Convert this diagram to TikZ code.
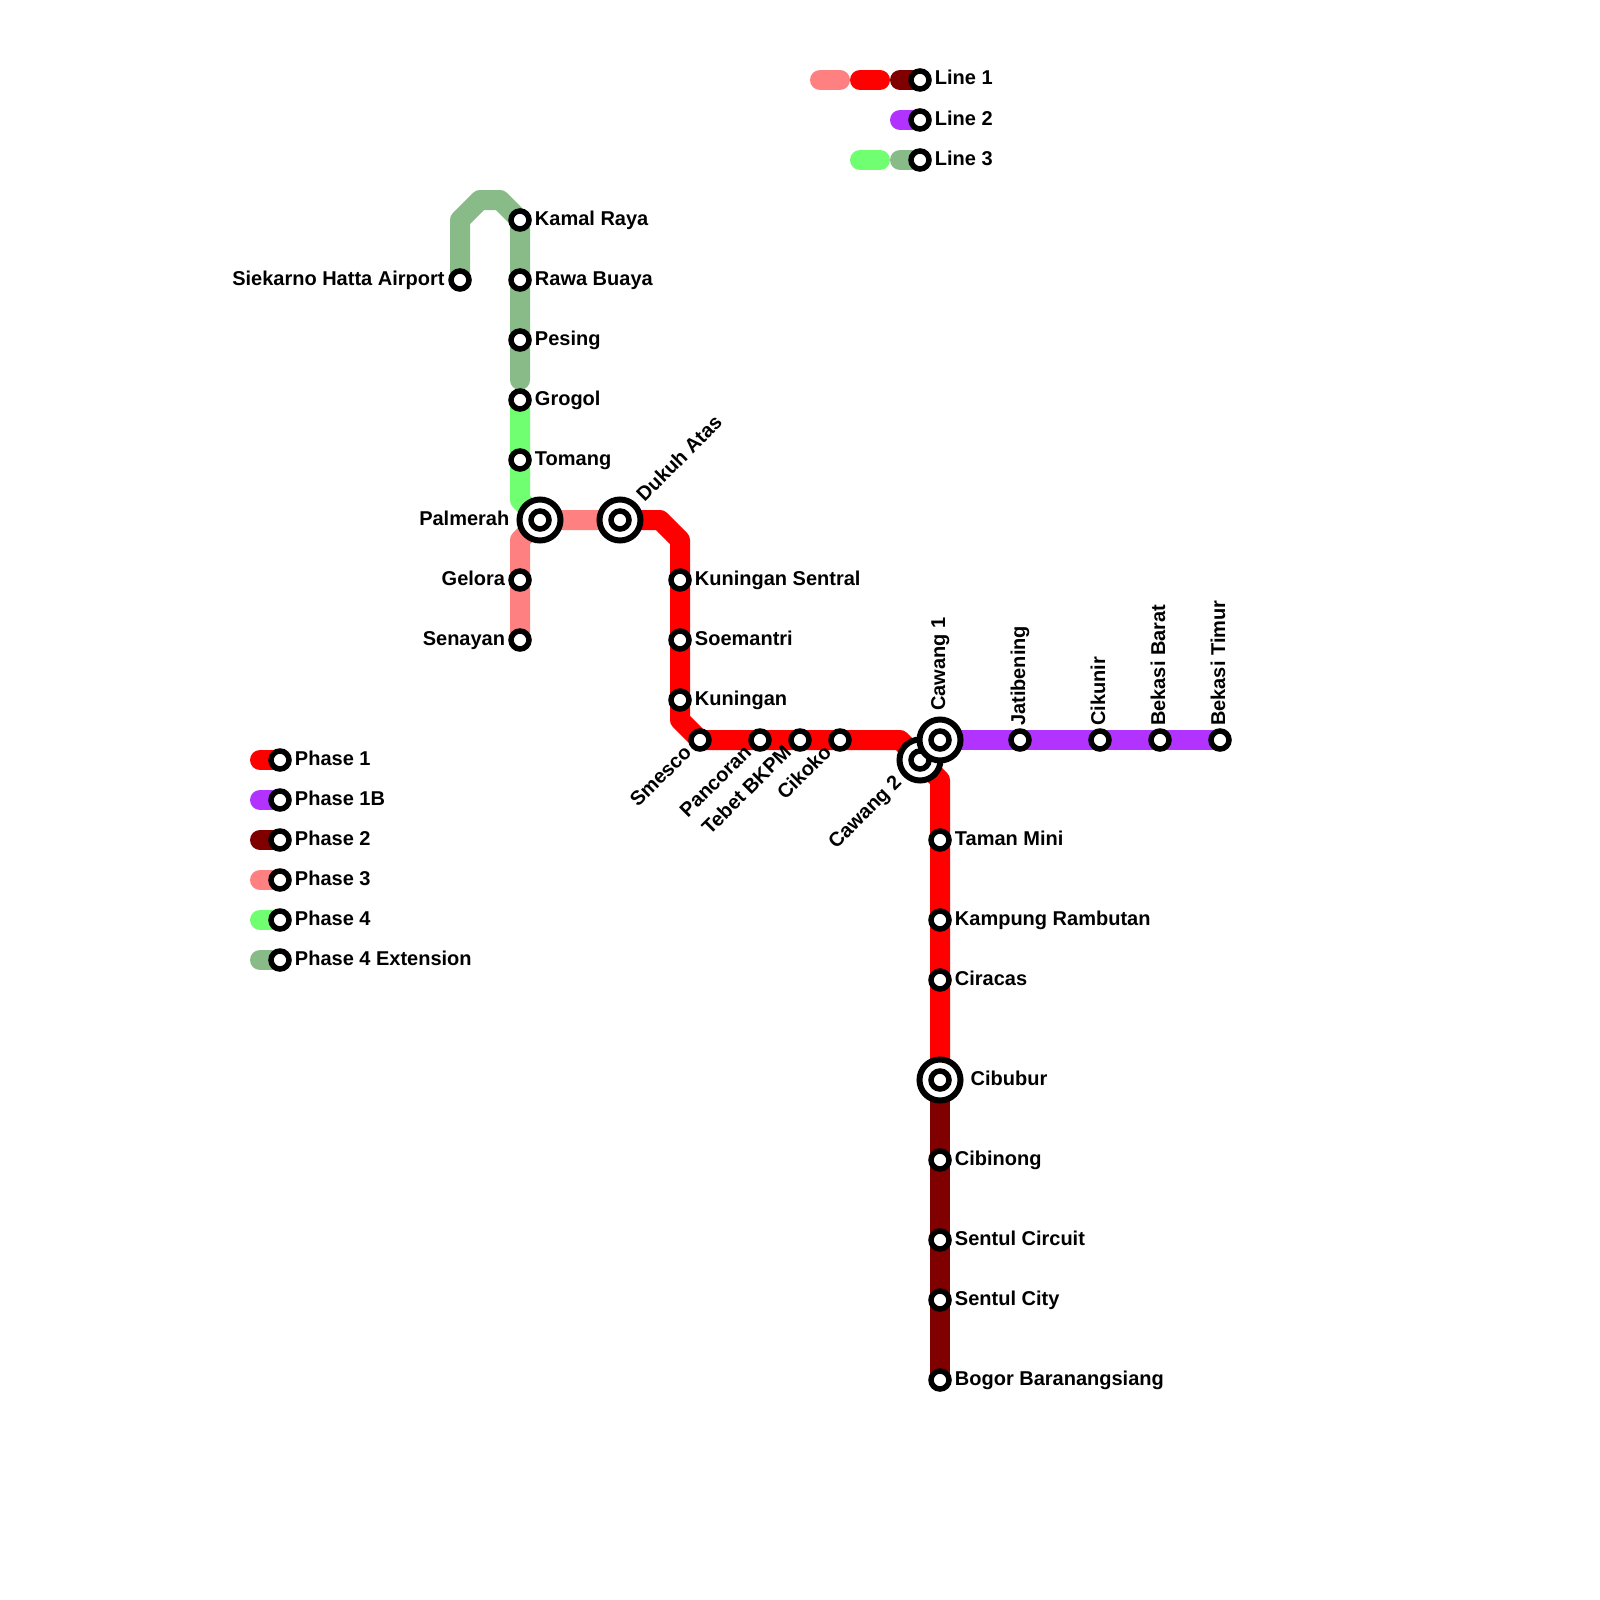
\documentclass[tikz,border=0pt]{standalone}
\usepackage{fontspec}
\setmainfont{Liberation Sans}
\usepackage{xcolor}
\usepackage{tikz}
\usetikzlibrary{positioning,calc,backgrounds}
\definecolor{phaseA}{HTML}{FF0000}
\definecolor{phaseB}{HTML}{B233FF}
\definecolor{phaseC}{HTML}{800000}
\definecolor{phaseD}{HTML}{FF8080}
\definecolor{phaseE}{HTML}{70FF70}
\definecolor{phaseF}{HTML}{88BB88}

\begin{document}
\begin{tikzpicture}[
  x=1pt, y=-1pt,
  stn/.style={circle, draw=black, fill=white, line width=5.5pt, minimum size=18pt, inner sep=0pt},
  xch/.style={circle, draw=black, fill=white, line width=6pt, minimum size=41pt, inner sep=0pt},
  lbl/.style={font=\bfseries\fontsize{20}{24}\selectfont, inner sep=0pt, text height=14.5pt, text depth=4.5pt},
  up/.style={lbl, rotate=90, anchor=west},
  rise/.style={lbl, rotate=45, anchor=west},
  fall/.style={lbl, rotate=45, anchor=east},
  track/.style={line width=20pt, line cap=round, line join=round}]
\useasboundingbox (0,0) rectangle (1600,1600);
% line 3, north
\node[stn] (airport) at (460,280) {};
\node[lbl, left=3.5pt of airport] (airportT) {Siekarno Hatta Airport};
\node[stn] (kamal) at (520,220) {};
\node[lbl, right=3pt of kamal] (kamalT) {Kamal Raya};
\node[stn] (rawa) at (520,280) {};
\node[lbl, right=3pt of rawa] (rawaT) {Rawa Buaya};
\node[stn] (pesing) at (520,340) {};
\node[lbl, right=3pt of pesing] (pesingT) {Pesing};
\node[stn] (grogol) at (520,400) {};
\node[lbl, right=3pt of grogol] (grogolT) {Grogol};
\node[stn] (tomang) at (520,460) {};
\node[lbl, right=3pt of tomang] (tomangT) {Tomang};
\node[stn] (senayan) at (520,640) {};
\node[lbl, left=3pt of senayan] (senayanT) {Senayan};
\node[stn] (gelora) at (520,580) {};
\node[lbl, left=3pt of gelora] (geloraT) {Gelora};
\node[xch] (palmerahO) at (540,520) {};
\node[stn] (palmerah) at (palmerahO) {};
\node[lbl, left=7pt of palmerahO] (palmerahT) {Palmerah};
\node[xch] (dukuhO) at (620,520) {};
\node[stn] (dukuh) at (dukuhO) {};
\node[rise] (dukuhT) at (641,499) {Dukuh Atas};
% line 1, south
\node[stn] (kuningansen) at (680,580) {};
\node[lbl, right=3pt of kuningansen] (kuningansenT) {Kuningan Sentral};
\node[stn] (soemantri) at (680,640) {};
\node[lbl, right=3pt of soemantri] (soemantriT) {Soemantri};
\node[stn] (kuningan) at (680,700) {};
\node[lbl, right=3pt of kuningan] (kuninganT) {Kuningan};
\node[stn] (smesco) at (700,740) {};
\node[fall] (smescoT) at (689,750) {Smesco};
\node[stn] (pancoran) at (760,740) {};
\node[fall] (pancoranT) at (749,750) {Pancoran};
\node[stn] (tebet) at (800,740) {};
\node[fall] (tebetT) at (789,750) {Tebet BKPM};
\node[stn] (cikoko) at (840,740) {};
\node[fall] (cikokoT) at (829,750) {Cikoko};
\node[xch] (cawangbO) at (920,760) {};
\node[stn] (cawangb) at (cawangbO) {};
\node[fall] (cawangbT) at (899,780) {Cawang 2};
\node[xch] (cawangaO) at (940,740) {};
\node[stn] (cawanga) at (cawangaO) {};
\node[up] (cawangaT) at (940,711) {Cawang 1};
% line 2
\node[stn] (jatibening) at (1020,740) {};
\node[up] (jatibeningT) at (1020,726) {Jatibening};
\node[stn] (cikunir) at (1100,740) {};
\node[up] (cikunirT) at (1100,726) {Cikunir};
\node[stn] (bekasib) at (1160,740) {};
\node[up] (bekasibT) at (1160,726) {Bekasi Barat};
\node[stn] (bekasit) at (1220,740) {};
\node[up] (bekasitT) at (1220,726) {Bekasi Timur};
% line 1, to Bogor
\node[stn] (taman) at (940,840) {};
\node[lbl, right=3pt of taman] (tamanT) {Taman Mini};
\node[stn] (kampung) at (940,920) {};
\node[lbl, right=3pt of kampung] (kampungT) {Kampung Rambutan};
\node[stn] (ciracas) at (940,980) {};
\node[lbl, right=3pt of ciracas] (ciracasT) {Ciracas};
\node[xch] (cibuburO) at (940,1080) {};
\node[stn] (cibubur) at (cibuburO) {};
\node[lbl, right=7pt of cibuburO] (cibuburT) {Cibubur};
\node[stn] (cibinong) at (940,1160) {};
\node[lbl, right=3pt of cibinong] (cibinongT) {Cibinong};
\node[stn] (circuit) at (940,1240) {};
\node[lbl, right=3pt of circuit] (circuitT) {Sentul Circuit};
\node[stn] (city) at (940,1300) {};
\node[lbl, right=3pt of city] (cityT) {Sentul City};
\node[stn] (bogor) at (940,1380) {};
\node[lbl, right=3pt of bogor] (bogorT) {Bogor Baranangsiang};
% line key
\node[stn] (lineA) at (920,80) {};
\node[lbl, right=3pt of lineA] (lineAT) {Line 1};
\node[stn] (lineB) at (920,120) {};
\node[lbl, right=3pt of lineB] (lineBT) {Line 2};
\node[stn] (lineC) at (920,160) {};
\node[lbl, right=3pt of lineC] (lineCT) {Line 3};
% phase key
\node[stn] (keyA) at (280,760) {};
\node[lbl, right=3pt of keyA] (keyAT) {Phase 1};
\node[stn] (keyB) at (280,800) {};
\node[lbl, right=3pt of keyB] (keyBT) {Phase 1B};
\node[stn] (keyC) at (280,840) {};
\node[lbl, right=3pt of keyC] (keyCT) {Phase 2};
\node[stn] (keyD) at (280,880) {};
\node[lbl, right=3pt of keyD] (keyDT) {Phase 3};
\node[stn] (keyE) at (280,920) {};
\node[lbl, right=3pt of keyE] (keyET) {Phase 4};
\node[stn] (keyF) at (280,960) {};
\node[lbl, right=3pt of keyF] (keyFT) {Phase 4 Extension};
% bends and free ends
\coordinate (bendA) at (460,220); \coordinate (bendB) at (480,200); \coordinate (bendC) at (500,200);
\coordinate (extEnd) at (520,380); \coordinate (bendD) at (520,500); \coordinate (bendE) at (520,540);
\coordinate (bendF) at (660,520); \coordinate (bendG) at (680,540); \coordinate (bendH) at (680,720);
\coordinate (bendI) at (900,740); \coordinate (bendJ) at (940,780);
\begin{scope}[on background layer]
\draw[track, phaseF] (airport.center) -- (bendA) -- (bendB) -- (bendC) -- (kamal.center) -- (extEnd);
\draw[track, phaseE] (grogol.center) -- (bendD) -- (palmerah.center);
\draw[track, phaseD] (senayan.center) -- (bendE) -- (palmerah.center) -- (dukuh.center);
\draw[track, phaseC] (cibubur.center) -- (bogor.center);
\draw[track, phaseB] (cawanga.center) -- (bekasit.center);
\draw[track, phaseA] (dukuh.center) -- (bendF) -- (bendG) -- (bendH) -- (smesco.center) -- (bendI) -- (cawangb.center) -- (bendJ) -- (cibubur.center);
% key pills
\draw[track, phaseD] (820,80) coordinate (pillA) -- (840,80) coordinate (pillB);
\draw[track, phaseA] (860,80) coordinate (pillC) -- (880,80) coordinate (pillD);
\draw[track, phaseC] (900,80) coordinate (pillE) -- (lineA.center);
\draw[track, phaseB] (900,120) coordinate (pillF) -- (lineB.center);
\draw[track, phaseE] (860,160) coordinate (pillG) -- (880,160) coordinate (pillH);
\draw[track, phaseF] (900,160) coordinate (pillI) -- (lineC.center);
\draw[track, phaseA] (260,760) coordinate (tabA) -- (keyA.center);
\draw[track, phaseB] (260,800) coordinate (tabB) -- (keyB.center);
\draw[track, phaseC] (260,840) coordinate (tabC) -- (keyC.center);
\draw[track, phaseD] (260,880) coordinate (tabD) -- (keyD.center);
\draw[track, phaseE] (260,920) coordinate (tabE) -- (keyE.center);
\draw[track, phaseF] (260,960) coordinate (tabF) -- (keyF.center);
\end{scope}
\end{tikzpicture}
\end{document}
